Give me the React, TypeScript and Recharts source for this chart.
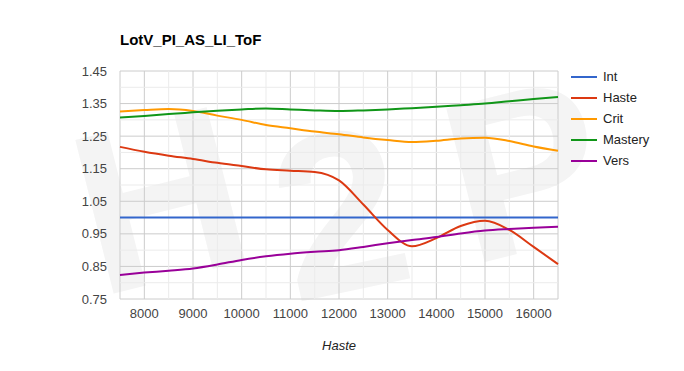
import React from 'react';
import { LineChart, Line, XAxis, YAxis, CartesianGrid, ReferenceLine } from 'recharts';

const haste = [7500, 8000, 8500, 9000, 9500, 10000, 10500, 11000, 11500, 12000, 12500, 13000, 13500, 14000, 14500, 15000, 15500, 16000, 16500];
const intVals = [1.0, 1.0, 1.0, 1.0, 1.0, 1.0, 1.0, 1.0, 1.0, 1.0, 1.0, 1.0, 1.0, 1.0, 1.0, 1.0, 1.0, 1.0, 1.0];
const hasteVals = [1.217, 1.202, 1.19, 1.18, 1.168, 1.158, 1.148, 1.144, 1.14, 1.114, 1.04, 0.962, 0.912, 0.937, 0.974, 0.99, 0.962, 0.91, 0.857];
const critVals = [1.326, 1.33, 1.333, 1.327, 1.313, 1.3, 1.284, 1.274, 1.264, 1.256, 1.246, 1.238, 1.232, 1.236, 1.243, 1.245, 1.235, 1.218, 1.205];
const masteryVals = [1.307, 1.312, 1.318, 1.323, 1.328, 1.332, 1.335, 1.332, 1.329, 1.327, 1.329, 1.332, 1.336, 1.34, 1.345, 1.35, 1.357, 1.364, 1.37];
const versVals = [0.824, 0.831, 0.837, 0.844, 0.856, 0.87, 0.881, 0.889, 0.895, 0.9, 0.91, 0.921, 0.931, 0.94, 0.951, 0.96, 0.965, 0.969, 0.972];

const xTicks = [8000, 9000, 10000, 11000, 12000, 13000, 14000, 15000, 16000];
const yTicks = [0.75, 0.85, 0.95, 1.05, 1.15, 1.25, 1.35, 1.45];
const xMinor = [8500, 9500, 10500, 11500, 12500, 13500, 14500, 15500];
const yMinor = [0.8, 0.9, 1.0, 1.1, 1.2, 1.3, 1.4];

const series = [
  { key: 'Int', color: '#3366cc', values: intVals },
  { key: 'Haste', color: '#dc3912', values: hasteVals },
  { key: 'Crit', color: '#ff9900', values: critVals },
  { key: 'Mastery', color: '#109618', values: masteryVals },
  { key: 'Vers', color: '#990099', values: versVals },
];

const data = haste.map((h, i) => {
  const row: Record<string, number> = { haste: h };
  series.forEach((s) => {
    row[s.key] = s.values[i];
  });
  return row;
});

const FONT = "Arial, 'Liberation Sans', sans-serif";

const LegendBox = () => (
  <div style={{ fontFamily: FONT, fontSize: 13, color: '#222' }}>
    {series.map((s) => (
      <div key={s.key} style={{ display: 'flex', alignItems: 'center', height: 21 }}>
        <div style={{ width: 26, height: 2, background: s.color, marginRight: 6 }} />
        <span>{s.key}</span>
      </div>
    ))}
  </div>
);

// faint "H2P" watermark behind the plot
const Watermark = () => (
  <svg width={684} height={371} style={{ position: 'absolute', left: 0, top: 0 }}>
    <g fill="#f4f4f4" fontFamily={FONT} fontWeight="bold" fontSize={230} textAnchor="middle" dominantBaseline="central">
      <text x={160} y={200} transform="rotate(-14 160 200)">H</text>
      <text x={340} y={212} transform="rotate(-12 340 212)">2</text>
      <text x={525} y={170} transform="rotate(-14 525 170)">P</text>
    </g>
  </svg>
);

export default function App() {
  return (
    <div style={{ position: 'relative', width: 684, height: 371, background: '#fff', overflow: 'hidden' }}>
      <style>{'body{margin:0}'}</style>
      <Watermark />
      <div
        style={{
          position: 'absolute',
          left: 120,
          top: 31,
          fontFamily: FONT,
          fontSize: 15,
          fontWeight: 'bold',
          color: '#000',
        }}
      >
        LotV_PI_AS_LI_ToF
      </div>
      <div style={{ position: 'absolute', left: 0, top: 0 }}>
        <LineChart width={684} height={371} data={data} margin={{ top: 71, right: 126, bottom: 0, left: 0 }}>
          <CartesianGrid stroke="#cccccc" strokeWidth={1} />
          {yMinor.map((v) => (
            <ReferenceLine key={'y' + v} y={v} stroke="#ebebeb" strokeWidth={1} />
          ))}
          {xMinor.map((v) => (
            <ReferenceLine key={'x' + v} x={v} stroke="#ebebeb" strokeWidth={1} />
          ))}
          <XAxis
            dataKey="haste"
            type="number"
            domain={[7500, 16500]}
            ticks={xTicks}
            interval={0}
            axisLine={false}
            tickLine={false}
            tickSize={0}
            tickMargin={10}
            height={72}
            tick={{ fill: '#444', fontSize: 13, fontFamily: FONT }}
            label={{
              value: 'Haste',
              position: 'insideBottom',
              offset: 21,
              style: { fill: '#222', fontSize: 13, fontStyle: 'italic', fontFamily: FONT },
            }}
          />
          <YAxis
            type="number"
            domain={[0.75, 1.45]}
            ticks={yTicks}
            interval={0}
            axisLine={false}
            tickLine={false}
            tickSize={0}
            tickMargin={13}
            width={120}
            tickFormatter={(v: number) => v.toFixed(2)}
            tick={{ fill: '#444', fontSize: 13, fontFamily: FONT }}
          />
          {series.map((s) => (
            <Line
              key={s.key}
              dataKey={s.key}
              type="monotone"
              stroke={s.color}
              strokeWidth={2}
              dot={false}
              isAnimationActive={false}
            />
          ))}
        </LineChart>
      </div>
      <div style={{ position: 'absolute', left: 571, top: 66 }}>
        <LegendBox />
      </div>
    </div>
  );
}
